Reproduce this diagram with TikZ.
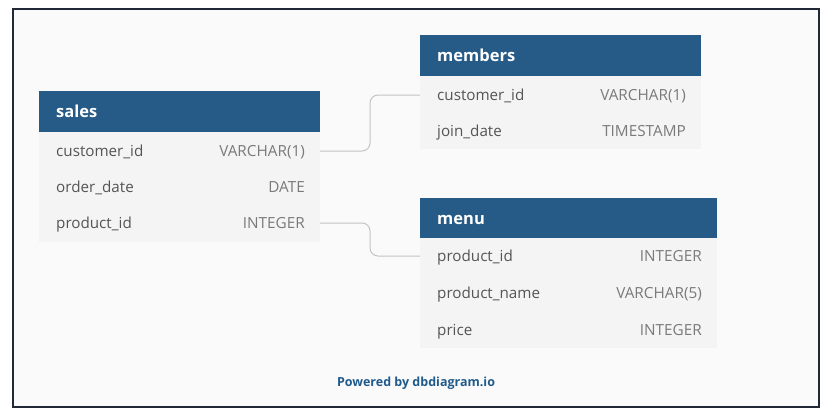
\documentclass[tikz,border=0pt]{standalone}
\usepackage{fontspec}
\setmainfont{Open Sans}
\definecolor{hdr}{HTML}{265B87}
\definecolor{rowbg}{HTML}{F4F4F4}
\definecolor{frame}{HTML}{1F2A36}
\definecolor{canvas}{HTML}{FAFAFA}
\definecolor{namec}{HTML}{555555}
\definecolor{typec}{HTML}{7A7A7A}
\definecolor{linec}{HTML}{C4C4C4}
\definecolor{powc}{HTML}{1F5A8C}
\tikzset{
  hdrbox/.style={fill=hdr, draw=none, anchor=north west, inner sep=0pt},
  bodybox/.style={fill=rowbg, draw=none, anchor=north west, inner sep=0pt},
  rowbox/.style={draw=none, inner sep=0pt, minimum height=36pt},
  hdrtext/.style={anchor=mid west, yshift=-3.5pt, text=white, font=\fontsize{16.5}{19}\selectfont\bfseries, inner sep=0pt},
  nametext/.style={anchor=mid west, yshift=-3pt, text=namec, font=\fontsize{15.2}{18}\selectfont, inner sep=0pt},
  typetext/.style={anchor=mid east, yshift=-3pt, text=typec, font=\fontsize{15.3}{18}\selectfont, inner sep=0pt},
  conn/.style={draw=linec, line width=1pt, rounded corners=8pt},
}
\begin{document}
\begin{tikzpicture}[x=1pt,y=-1pt]
\useasboundingbox (0,0) rectangle (840,413);
\fill[white] (0,0) rectangle (840,413);
\draw[frame, fill=canvas, line width=2pt] (13,9) rectangle (819,407);

% sales
\node[hdrbox, minimum width=281pt, minimum height=41pt] (sh) at (39,91) {};
\node[bodybox, minimum width=281pt, minimum height=110pt] (sb) at (39,132) {};
\node[hdrtext] (sht) at (56,111) {sales};
\node[rowbox, minimum width=281pt] (s1) at (179.5,151) {};
\node[rowbox, minimum width=281pt] (s2) at (179.5,187) {};
\node[rowbox, minimum width=281pt] (s3) at (179.5,223) {};
\node[nametext] (s1n) at (56,151) {customer\_id};
\node[typetext] (s1t) at (305,151) {VARCHAR(1)};
\node[nametext] (s2n) at (56,187) {order\_date};
\node[typetext] (s2t) at (305,187) {DATE};
\node[nametext] (s3n) at (56,223) {product\_id};
\node[typetext] (s3t) at (305,223) {INTEGER};

% members
\node[hdrbox, minimum width=281pt, minimum height=41pt] (mh) at (420,35) {};
\node[bodybox, minimum width=281pt, minimum height=73pt] (mb) at (420,76) {};
\node[hdrtext] (mht) at (437,55) {members};
\node[rowbox, minimum width=281pt] (m1) at (560.5,95) {};
\node[rowbox, minimum width=281pt] (m2) at (560.5,131) {};
\node[nametext] (m1n) at (437,95) {customer\_id};
\node[typetext] (m1t) at (686,95) {VARCHAR(1)};
\node[nametext] (m2n) at (437,131) {join\_date};
\node[typetext] (m2t) at (686,131) {TIMESTAMP};

% menu
\node[hdrbox, minimum width=297pt, minimum height=40pt] (nh) at (420,198) {};
\node[bodybox, minimum width=297pt, minimum height=110pt] (nb) at (420,238) {};
\node[hdrtext] (nht) at (437,218) {menu};
\node[rowbox, minimum width=297pt] (n1) at (568.5,256) {};
\node[rowbox, minimum width=297pt] (n2) at (568.5,293) {};
\node[rowbox, minimum width=297pt] (n3) at (568.5,330) {};
\node[nametext] (n1n) at (437,256) {product\_id};
\node[typetext] (n1t) at (702,256) {INTEGER};
\node[nametext] (n2n) at (437,293) {product\_name};
\node[typetext] (n2t) at (702,293) {VARCHAR(5)};
\node[nametext] (n3n) at (437,330) {price};
\node[typetext] (n3t) at (702,330) {INTEGER};

% connectors
\coordinate (c1) at (370,120);
\coordinate (c2) at (370,240);
\draw[conn] (s1.east) -| (c1) |- (m1.west);
\draw[conn] (s3.east) -| (c2) |- (n1.west);

\node[text=powc, font=\fontsize{12.5}{15}\selectfont\bfseries, anchor=mid, yshift=-3pt] (pw) at (416,381) {Powered by dbdiagram.io};
\end{tikzpicture}
\end{document}
